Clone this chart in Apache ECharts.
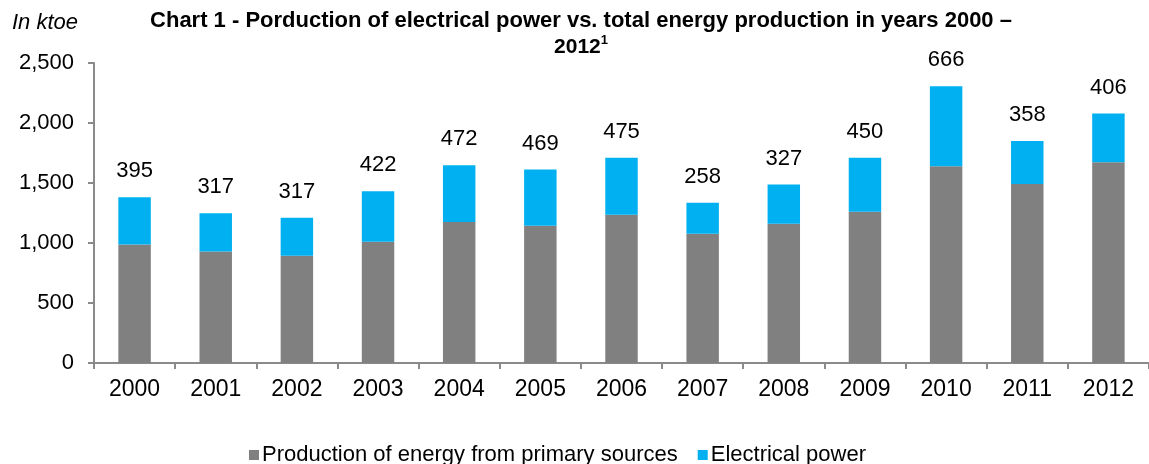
<!DOCTYPE html>
<html>
<head>
<meta charset="utf-8">
<script src="https://cdn.jsdelivr.net/npm/echarts@6/dist/echarts.min.js"></script>
<style>
  html, body { margin: 0; padding: 0; background: #fff; }
  #chart { width: 1149px; height: 464px; }
</style>
</head>
<body>
<div id="chart"></div>
<script>
// Years on the category axis
const years = ['2000', '2001', '2002', '2003', '2004', '2005', '2006',
               '2007', '2008', '2009', '2010', '2011', '2012'];
// Production of energy from primary sources (ktoe)
const primary = [987, 930, 894, 1010, 1176, 1143, 1235, 1077, 1160, 1260, 1640, 1492, 1673];
// Electrical power (ktoe)
const electrical = [395, 317, 317, 422, 472, 469, 475, 258, 327, 450, 666, 358, 406];
// Value-axis ticks
const yTicks = [0, 500, 1000, 1500, 2000, 2500];

const FONT = '"Liberation Sans", Arial, sans-serif';
const axisGray = '#8a8a8a';

const chart = echarts.init(document.getElementById('chart'), null, { renderer: 'canvas' });

chart.setOption({
  animation: false,
  backgroundColor: '#ffffff',
  textStyle: { fontFamily: FONT },
  graphic: [
    {
      type: 'text', left: 12, top: 12,
      style: { text: 'In ktoe', font: 'italic 22px ' + FONT, fill: '#000' }
    },
    {
      type: 'text', x: 581, y: 8,
      style: {
        text: 'Chart 1 - Porduction of electrical power vs. total energy production in years 2000 –\n{y|2012}{s|1}',
        font: 'bold 22px ' + FONT,
        fill: '#000',
        align: 'center',
        lineHeight: 26,
        rich: {
          y: { font: 'bold 21px ' + FONT, fill: '#000', lineHeight: 26 },
          s: { font: 'bold 13px ' + FONT, fill: '#000', verticalAlign: 'top', padding: [0, 0, 8, 0] }
        }
      }
    }
  ],
  legend: {
    left: 244, top: 439,
    itemWidth: 10, itemHeight: 10, itemGap: 20,
    icon: 'rect',
    textStyle: { fontSize: 22, color: '#000', fontFamily: FONT, padding: [0, 0, 0, -2] },
    data: ['Production of energy from primary sources', 'Electrical power']
  },
  grid: { left: 94, right: -4, top: 63, bottom: 101, containLabel: false },
  xAxis: {
    type: 'category',
    data: years,
    axisLine: { lineStyle: { color: axisGray, width: 2 } },
    axisTick: { show: true, length: 6, interval: 0, alignWithLabel: false, lineStyle: { color: axisGray, width: 2 } },
    axisLabel: { fontSize: 23, color: '#000', margin: 15, fontFamily: FONT, interval: 0 }
  },
  yAxis: {
    type: 'value',
    min: yTicks[0], max: yTicks[yTicks.length - 1], interval: 500,
    axisLine: { show: true, lineStyle: { color: axisGray, width: 2 } },
    axisTick: { show: true, length: 6, lineStyle: { color: axisGray, width: 2 } },
    splitLine: { show: false },
    axisLabel: {
      fontSize: 22, color: '#000', margin: 20, fontFamily: FONT,
      formatter: v => v.toLocaleString('en-US')
    }
  },
  series: [
    {
      name: 'Production of energy from primary sources',
      type: 'bar', stack: 'total',
      barWidth: '40%',
      itemStyle: { color: '#808080' },
      data: primary
    },
    {
      name: 'Electrical power',
      type: 'bar', stack: 'total',
      barWidth: '40%',
      itemStyle: { color: '#00B0F0' },
      label: {
        show: true, position: 'top', distance: 15,
        fontSize: 22, color: '#000', fontFamily: FONT
      },
      data: electrical
    }
  ]
});
</script>
</body>
</html>
